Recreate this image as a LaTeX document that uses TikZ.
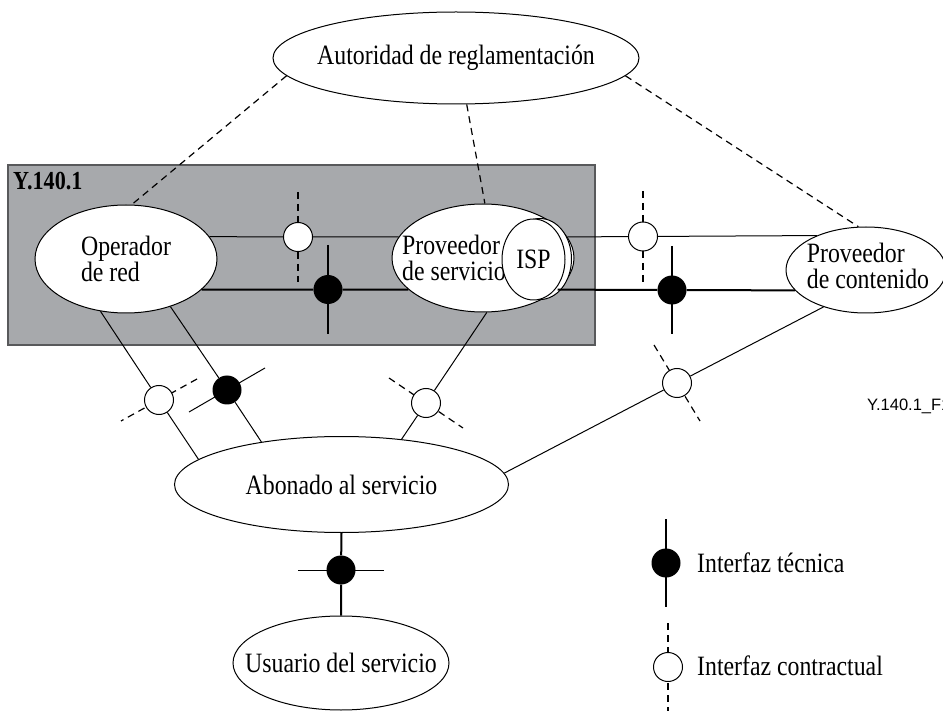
\documentclass[tikz,border=0pt]{standalone}
\usepackage{fontspec}
\setmainfont{Liberation Serif}[FakeStretch=0.85]
\newfontfamily\figfont{Liberation Sans}
\usetikzlibrary{shapes.geometric}

\definecolor{boxgray}{RGB}{167,169,172}
\definecolor{boxedge}{RGB}{88,89,91}

\begin{document}
\begin{tikzpicture}[x=1pt, y=-1pt,
        every node/.style={inner sep=0pt, font=\fontsize{28}{26}\selectfont},
        ell/.style={draw, ellipse, fill=white, line width=1pt},
        tec/.style={circle, fill=black, minimum size=29pt},
        con/.style={circle, draw, fill=white, line width=1pt, minimum size=29pt},
        link/.style={line width=1pt},
        tlink/.style={line width=2pt},
        dlink/.style={line width=1.2pt, dash pattern=on 7pt off 5pt}]

    \useasboundingbox (0,0) rectangle (943,711);
    \clip (0,0) rectangle (943,711);

    \draw[line width=2pt, draw=boxedge, fill=boxgray] (8,165) rectangle (595,345);
    \node[anchor=west, font=\fontsize{26}{28}\selectfont\bfseries] (ybox) at (13,181) {Y.140.1};

    \node[ell, minimum width=366pt, minimum height=92pt, label=center:{Autoridad de reglamentación}] (aut) at (456,58) {};
    \node[ell, minimum width=182pt, minimum height=108pt, label={[align=left]center:{Operador\\de red}}] (op) at (126,259) {};
    \node[ell, minimum width=182pt, minimum height=108pt, label={[align=left, xshift=-29pt]center:{Proveedor\\de servicio}}] (svc) at (483,258) {};
    \node[ell, minimum width=63pt, minimum height=81pt] (isp2) at (540,259) {};
    \node[ell, minimum width=63pt, minimum height=81pt, label=center:ISP] (isp) at (533.5,259.5) {};
    \node[ell, minimum width=160pt, minimum height=86pt, label={[align=left, xshift=2pt, yshift=4pt]center:{Proveedor\\de contenido}}] (cont) at (866,270) {};
    \node[ell, minimum width=334pt, minimum height=96pt, label=center:{Abonado al servicio}] (ab) at (341.5,484.5) {};
    \node[ell, minimum width=216pt, minimum height=94pt, label=center:{Usuario del servicio}] (us) at (341,663) {};

    \node[anchor=base west, font=\fontsize{16.5}{18}\figfont] (fig) at (867,410) {Y.140.1\_F1};

    % dependencias reglamentarias
    \draw[dlink] (aut.186) -- (op.84);
    \draw[dlink] (aut.-77) -- (svc.88);
    \draw[dlink] (aut.-6) -- (cont.100);

    % interfaces
    \draw[dlink] (298,192) -- (298,282);
    \node[con] (c1) at (298,237) {};
    \draw[tlink] (328,245) -- (328,334);
    \node[tec] (t1) at (328,289.5) {};
    \draw[dlink] (643,191) -- (643,282);
    \node[con] (c2) at (643,236.5) {};
    \draw[tlink] (672,246) -- (672,334);
    \node[tec] (t2) at (672,290) {};
    \draw[dlink] (197,379) -- (121,421);
    \node[con] (c3) at (159,400) {};
    \draw[link] (265,368) -- (189,412);
    \node[tec] (t3) at (227,390) {};
    \draw[dlink] (389,378) -- (463,428);
    \node[con] (c4) at (426,403) {};
    \draw[dlink] (654,345) -- (700,421);
    \node[con] (c5) at (677,383) {};
    \draw[link] (298,570) -- (384,570);
    \node[tec] (t4) at (341,570) {};

    \draw[link] (op.15) -- (c1) -- (svc.166);
    \draw[tlink] (op.-22) -- (t1) -- (svc.203);
    \draw[link] (svc.14) -- (c2) -- (cont.145);
    \draw[tlink] (svc.-23) -- (t2) -- (cont.196);
    \draw[link] (op.244) -- (c3) -- (ab.170);
    \draw[link] (op.-47) -- (t3) -- (ab.152);
    \draw[link] (svc.274) -- (c4) -- (ab.37);
    \draw[link] (ab.4) -- (c5) -- (cont.221);
    \draw[tlink] (ab.south) -- (t4) -- (us.north);

    % leyenda
    \draw[tlink] (666,519) -- (666,607);
    \node[tec] (tleg) at (666,563) {};
    \node[anchor=west] (tlegtxt) at (697,563) {Interfaz técnica};
    \draw[dlink] (668,623) -- (668,711);
    \node[con] (cleg) at (668,667) {};
    \node[anchor=west] (clegtxt) at (697,666) {Interfaz contractual};

\end{tikzpicture}
\end{document}
